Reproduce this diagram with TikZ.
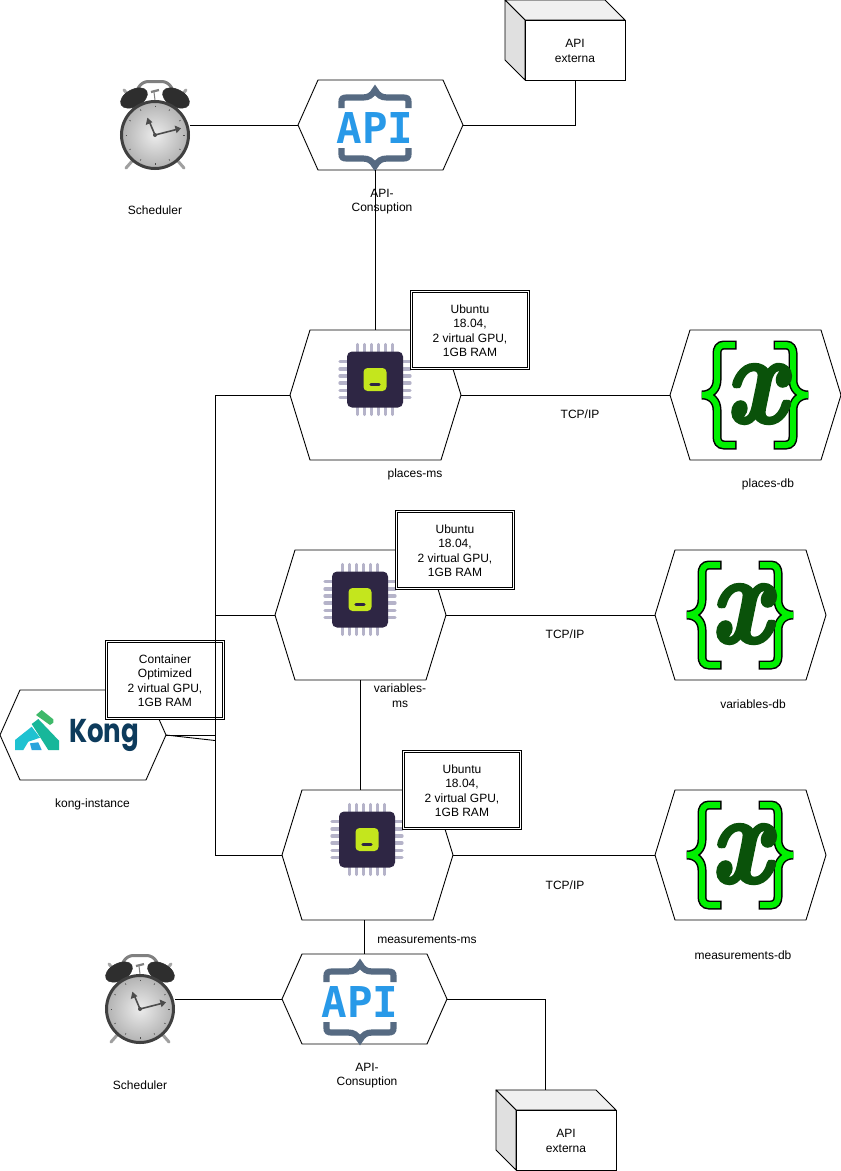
\documentclass[tikz,border=0pt]{standalone}
\usepackage{graphicx}
\usepackage{fontspec}
\setmainfont{Liberation Sans}
\newfontfamily\apifont{DejaVu Sans Mono}
\newfontfamily\xfont{Latin Modern Roman}[FakeBold=3]
\newfontfamily\kongfont{Poppins}
\definecolor{braceblue}{HTML}{566A82}
\definecolor{apiblue}{HTML}{2899E8}
\definecolor{chipdark}{HTML}{2E2644}
\definecolor{chippin}{HTML}{B5B3C9}
\definecolor{chipgreen}{HTML}{C4E61D}
\definecolor{xgreen}{HTML}{0A520A}
\definecolor{bracegreen}{HTML}{00F000}
\definecolor{kongnavy}{HTML}{0D3B5C}
\definecolor{kgreen}{HTML}{3FB96A}
\definecolor{kteal}{HTML}{17B79A}
\definecolor{kcyan}{HTML}{1FC2D1}
\definecolor{kblue}{HTML}{2AA4DC}
\tikzset{
  conn/.style={draw=black,line width=0.9pt},
  hexline/.style={draw=black,line width=0.9pt,fill=white,line join=miter},
  anchorbox/.style={rectangle,inner sep=0pt,outer sep=0pt},
  lbl/.style={inner sep=0pt,align=center,yshift=-0.7pt,font=\fontsize{12}{14.6}\selectfont},
  specbox/.style={rectangle,draw=black,fill=white,double=white,double distance=1.1pt,line width=0.9pt,
    minimum width=117pt,minimum height=77pt,inner sep=0pt},
  extfront/.style={rectangle,draw=black,fill=white,line width=0.9pt,minimum width=100pt,minimum height=60pt,inner sep=0pt},
}
% name, cx, cy, w, h, inset
\newcommand{\hexat}[6]{%
  \node[anchorbox,minimum width=#4pt,minimum height=#5pt] (#1) at (#2,#3) {};
  \draw[hexline] (#1.west) -- ([xshift=#6pt]#1.north west) -- ([xshift=-#6pt]#1.north east)
    -- (#1.east) -- ([xshift=-#6pt]#1.south east) -- ([xshift=#6pt]#1.south west) -- cycle;
}
\newcommand{\specat}[4]{%
  \node[specbox] (#1) at (#2,#3) {};
  \node[lbl] (#1Text) at (#1.center) {#4};
}
\newcommand{\clockat}[3]{%
  \node[anchorbox,minimum width=70pt,minimum height=90pt] (#1) at (#2,#3) {};
  \begin{scope}[shift={(#2,#3)}]
    \draw[gray!70,line width=3pt,line cap=round] (-24,-27) -- (-31,-35);
    \draw[gray!70,line width=3pt,line cap=round] (24,-27) -- (31,-35);
    \draw[gray,line width=3pt,rounded corners=6pt] (-20,-31) -- (-13,-43.5) -- (13,-43.5) -- (20,-31);
    \draw[gray,line width=1pt] (0,-25) -- (-1,-33);
    \draw[gray,line width=2.2pt] (-4,-33) -- (4,-35);
    \draw[black!82,fill=black!82,line width=0.6pt] (-21,-27) ellipse [x radius=14.5,y radius=8.5,rotate=28];
    \draw[black!82,fill=black!82,line width=0.6pt] (21,-27) ellipse [x radius=14.5,y radius=8.5,rotate=-28];
    \draw[gray!75,line width=3pt,line cap=round] (-22,35) -- (-29,43);
    \draw[gray!75,line width=3pt,line cap=round] (22,35) -- (29,43);
    \shade[inner color=gray!15,outer color=gray!60] (0,10) circle [radius=33];
    \draw[black!75,line width=3pt] (0,10) circle [radius=33.5];
    \foreach \a in {0,30,...,330} {
      \draw[black!70,line width=0.6pt] ({29.5*cos(\a)},{10+29.5*sin(\a)}) -- ({28*cos(\a)},{10+28*sin(\a)});
    }
    \draw[black!70,line width=1.6pt] (0,10) -- (-5.5,-3);
    \fill[black!70] (-7.6,-7.3) -- (-9.2,0) -- (-2.6,-2.8) -- cycle;
    \draw[black!70,line width=1.6pt] (0,10) -- (21,4.6);
    \fill[black!70] (26,3.3) -- (19.6,0.5) -- (21.6,8.2) -- cycle;
    \fill[black!70] (0,10) circle [radius=2];
  \end{scope}
}
\newcommand{\apilogo}[2]{%
  \begin{scope}[shift={(#1,#2)}]
    \foreach \s in {1,-1} {
      \begin{scope}[yscale=\s]
      \draw[braceblue,line width=6.2pt] (-33.5,-20) -- (-33.5,-26) .. controls (-33.5,-29.5) and (-32,-30.5) .. (-28,-30.5)
        -- (-12,-30.5) .. controls (-6,-30.5) and (-3,-33) .. (0,-38) .. controls (3,-33) and (6,-30.5) .. (12,-30.5)
        -- (28,-30.5) .. controls (32,-30.5) and (33.5,-29.5) .. (33.5,-26) -- (33.5,-20);
      \end{scope}
    }
    \node[inner sep=0pt,text=apiblue] at (0,0) {\fontsize{42.5}{42.5}\selectfont\apifont\bfseries API};
  \end{scope}
}
\newcommand{\chipat}[2]{%
  \begin{scope}[shift={(#1,#2)}]
    \foreach \p in {-17.75,-10.65,-3.55,3.55,10.65,17.75} {
      \draw[chippin,line width=3.3pt,line cap=round] (\p,-35) -- (\p,35);
      \draw[chippin,line width=3.3pt,line cap=round] (-35,\p) -- (35,\p);
    }
    \fill[chipdark,rounded corners=5pt] (-28,-28) rectangle (28,28);
    \fill[chipgreen,rounded corners=4pt] (-11.5,-11.5) rectangle (11.5,11.5);
    \draw[chipdark,line width=3pt,line cap=round] (-4.2,4.5) -- (4.2,4.5);
  \end{scope}
}
\newcommand{\curlyx}[2]{%
  \begin{scope}[shift={(#1,#2)}]
    \foreach \s in {1,-1} {
      \begin{scope}[xscale=\s]
      \draw[black,line width=9pt,line cap=rect,line join=miter] (-23,-50) -- (-31,-50) .. controls (-36,-50) and (-38,-46) .. (-38,-42)
        -- (-38,-15) .. controls (-38,-6) and (-44,0) .. (-53,0) .. controls (-44,0) and (-38,6) .. (-38,15) -- (-38,42)
        .. controls (-38,46) and (-36,50) .. (-31,50) -- (-23,50);
      \draw[bracegreen,line width=6pt,line cap=rect,line join=miter] (-23,-50) -- (-31,-50) .. controls (-36,-50) and (-38,-46) .. (-38,-42)
        -- (-38,-15) .. controls (-38,-6) and (-44,0) .. (-53,0) .. controls (-44,0) and (-38,6) .. (-38,15) -- (-38,42)
        .. controls (-38,46) and (-36,50) .. (-31,50) -- (-23,50);
      \end{scope}
    }
    \node[inner sep=0pt,text=xgreen] at (0.7,-1) {\scalebox{0.86}[1.02]{\fontsize{125}{125}\selectfont\xfont\bfseries\itshape x}};
  \end{scope}
}
\newcommand{\extbox}[5]{% name, cx, cy, line1, line2
  \begin{scope}[shift={(#2,#3)}]
    \draw[fill=black!6,line width=0.9pt,line join=round] (-50,-30) -- (-70,-50) -- (30,-50) -- (50,-30) -- cycle;
    \draw[fill=black!12,line width=0.9pt,line join=round] (-50,-30) -- (-70,-50) -- (-70,10) -- (-50,30) -- cycle;
  \end{scope}
  \node[extfront] (#1) at (#2,#3) {};
  \node[lbl] (#1Text) at (#1.center) {#4\\#5};
}
\begin{document}
\begin{tikzpicture}[x=1pt,y=-1pt]
\useasboundingbox (0,0) rectangle (841,1171);
\fill[white] (0,0) rectangle (841,1171);

% top row
\clockat{clockTop}{155}{125}
\hexat{apiTop}{380.5}{125}{165}{90}{20}
\apilogo{375}{128}
\extbox{extTop}{575}{50}{API}{externa}

% services
\hexat{places}{375.5}{395}{171}{130}{20}
\chipat{375}{379.5}
\hexat{placesDb}{755.5}{395}{171}{130}{20}
\curlyx{755}{395}
\hexat{variables}{360.5}{615}{171}{130}{20}
\chipat{360}{599.5}
\hexat{variablesDb}{740.5}{615}{171}{130}{20}
\curlyx{740}{615}
\hexat{meas}{367.5}{855}{171}{130}{20}
\chipat{367}{839.5}
\hexat{measDb}{740.5}{855}{171}{130}{20}
\curlyx{740}{855}

% kong
\hexat{kong}{83}{735}{166}{90}{20}
\fill[kgreen] (36,715) -- (41.7,710) -- (53.3,719.3) -- (53.3,722.7) -- (50,725) -- cycle;
\fill[kteal] (31.7,724) -- (38.3,719) -- (59,740.7) -- (59,750) -- (48.3,750) -- cycle;
\fill[kcyan] (15,740) -- (31.7,726.7) -- (40,737.7) -- (28.3,741.7) -- (23.3,750) -- (15,750) -- cycle;
\fill[kblue] (30,743.3) -- (38.3,742.3) -- (41.7,750) -- (31.7,750) -- cycle;
\node[inner sep=0pt,anchor=base west,text=kongnavy] (kongText) at (69,742) {\scalebox{0.79}[1]{\fontsize{33}{33}\selectfont\kongfont\bfseries Kong}};

% bottom row
\clockat{clockBot}{140}{999}
\hexat{apiBot}{364.5}{999}{165}{90}{20}
\apilogo{360}{1002}
\extbox{extBot}{566}{1140}{API}{externa}

% spec boxes
\specat{specPlaces}{470}{330}{Ubuntu\\18.04,\\2 virtual GPU,\\1GB RAM}
\specat{specVariables}{455}{550}{Ubuntu\\18.04,\\2 virtual GPU,\\1GB RAM}
\specat{specMeas}{462}{790}{Ubuntu\\18.04,\\2 virtual GPU,\\1GB RAM}
\specat{specKong}{165}{680}{Container\\Optimized\\2 virtual GPU,\\1GB RAM}

% connector ends
\coordinate (busTop) at (215,395);
\coordinate (busBot) at (215,855);
\coordinate (busKongA) at (215,735);
\coordinate (busKongB) at (215,740.5);
\coordinate (extBotTop) at (545,1090);

% connectors
\draw[conn] (clockTop.east) -- (apiTop.west);
\draw[conn] (apiTop.east) -| (extTop.south);
\draw[conn] (apiTop.south -| places.north) -- (places.north);
\draw[conn] (places.west) -- (busTop) -- (busBot) -- (meas.west);
\draw[conn] (variables.west) -- (variables.west -| busTop);
\draw[conn] (kong.east) -- (busKongA);
\draw[conn] (kong.east) -- (busKongB);
\draw[conn] (places.east) -- (placesDb.west);
\draw[conn] (variables.east) -- (variablesDb.west);
\draw[conn] (meas.east) -- (measDb.west);
\draw[conn] (variables.south) -- (variables.south |- meas.north);
\draw[conn] (apiBot.north |- meas.south) -- (apiBot.north);
\draw[conn] (clockBot.east) -- (apiBot.west);
\draw[conn] (apiBot.east) -| (extBotTop);

% labels
\node[lbl] (lblSchedTop) at (155,210) {Scheduler};
\node[lbl] (lblApiTop) at (382,201) {API-\\Consuption};
\node[lbl] (lblPlaces) at (415,474) {places-ms};
\node[lbl] (lblPlacesDb) at (768,484) {places-db};
\node[lbl] (lblTcpA) at (580,414) {TCP/IP};
\node[lbl] (lblVariables) at (400,695) {variables-\\ms};
\node[lbl] (lblVariablesDb) at (753,704) {variables-db};
\node[lbl] (lblTcpB) at (565,634) {TCP/IP};
\node[lbl] (lblKong) at (92.5,804) {kong-instance};
\node[lbl] (lblMeas) at (427,939) {measurements-ms};
\node[lbl] (lblMeasDb) at (743,954) {measurements-db};
\node[lbl] (lblTcpC) at (565,884) {TCP/IP};
\node[lbl] (lblSchedBot) at (140,1084) {Scheduler};
\node[lbl] (lblApiBot) at (367,1075) {API-\\Consuption};
\end{tikzpicture}
\end{document}
